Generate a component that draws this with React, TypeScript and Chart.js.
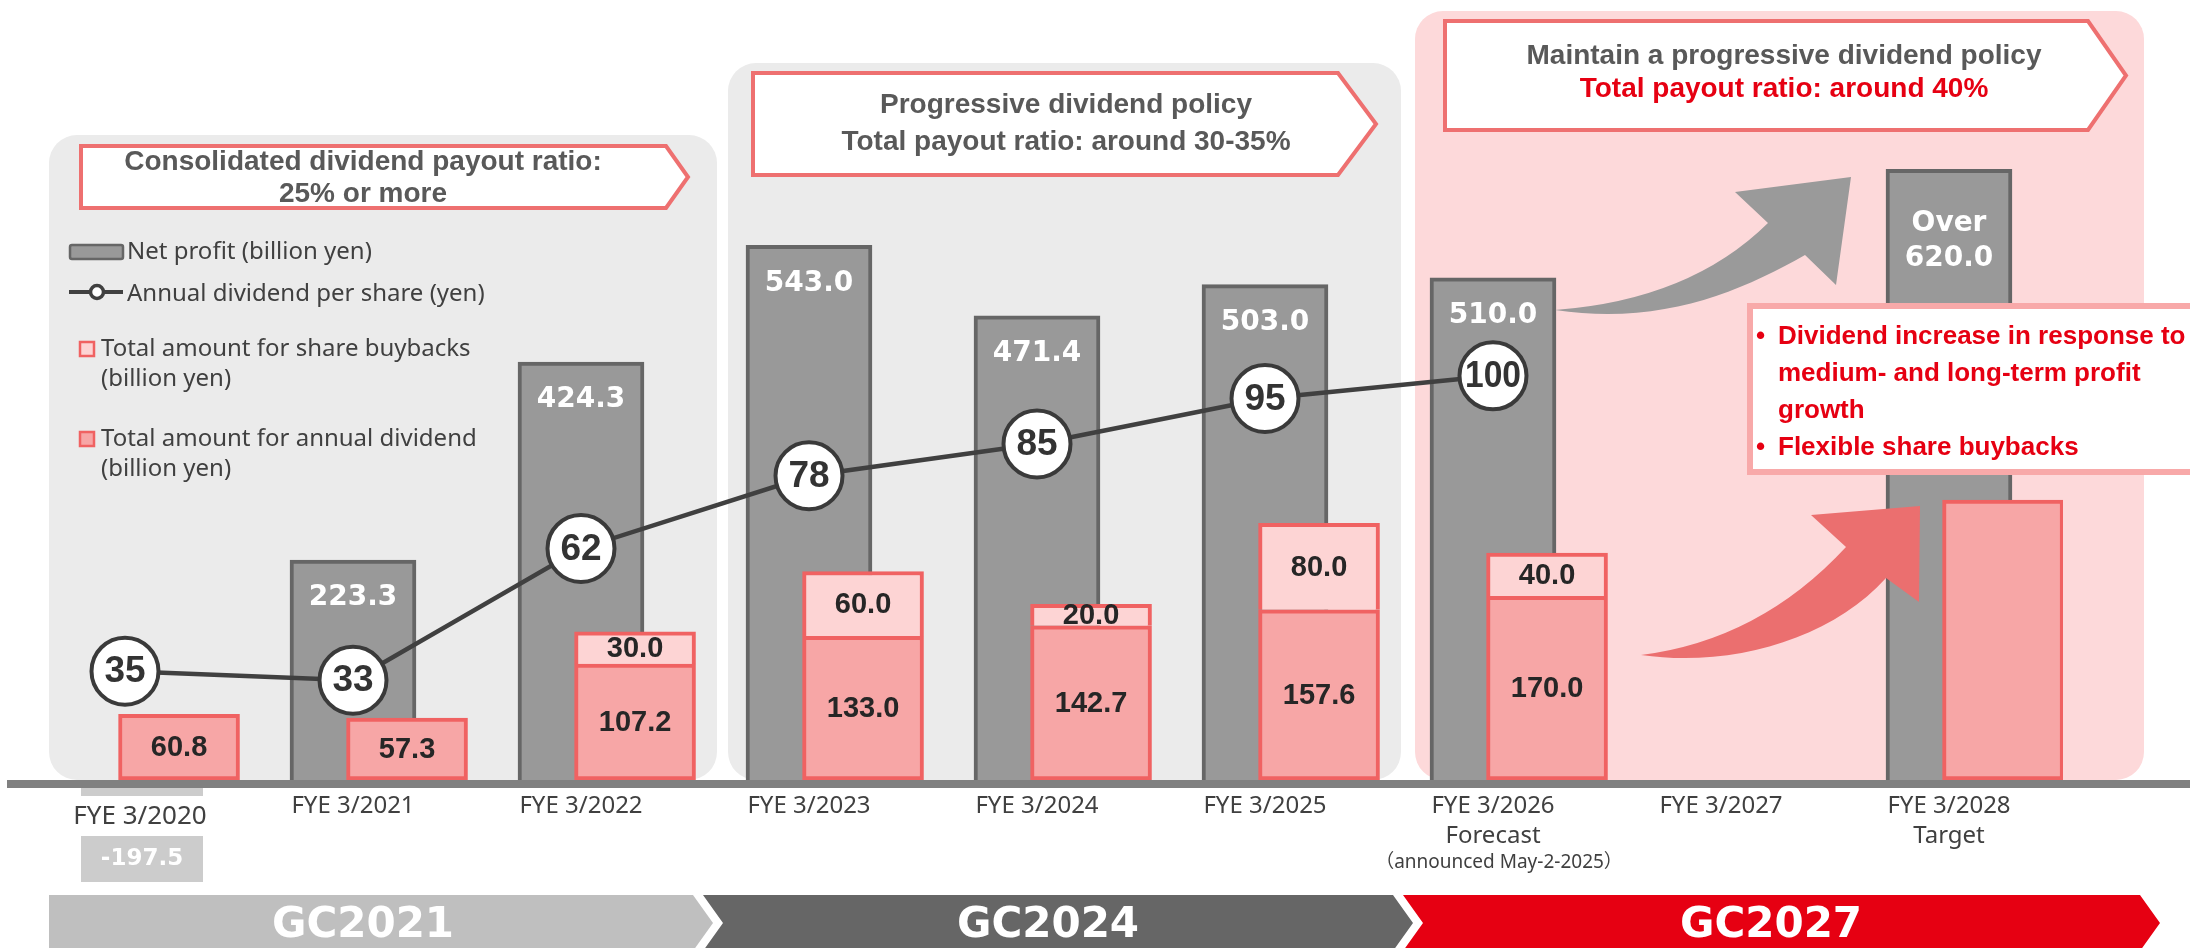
import { useEffect, useRef } from 'react';
import { Chart, registerables } from 'chart.js';

Chart.register(...registerables);

// ---------- data ----------
const categories = ['FYE 3/2020', 'FYE 3/2021', 'FYE 3/2022', 'FYE 3/2023', 'FYE 3/2024', 'FYE 3/2025', 'FYE 3/2026', 'FYE 3/2027', 'FYE 3/2028'];
const categorySubLabels: string[][] = [[], [], [], [], [], [], ['Forecast', '（announced May-2-2025）'], [], ['Target']];
const netProfit = [-197.5, 223.3, 424.3, 543.0, 471.4, 503.0, 510.0, null, 620.0];
const netProfitLabels = ['-197.5', '223.3', '424.3', '543.0', '471.4', '503.0', '510.0', '', 'Over\n620.0'];
const dividendTotal = [60.8, 57.3, 107.2, 133.0, 142.7, 157.6, 170.0, null, 259.0];
const dividendLabels = ['60.8', '57.3', '107.2', '133.0', '142.7', '157.6', '170.0', '', ''];
const buybackTotal = [null, null, 30.0, 60.0, 20.0, 80.0, 40.0, null, null];
const buybackLabels = ['', '', '30.0', '60.0', '20.0', '80.0', '40.0', '', ''];
const dividendPerShare = [35, 33, 62, 78, 85, 95, 100, null, null];
const periodBands = ['GC2021', 'GC2024', 'GC2027'];
const policyTitles = [
  ['Consolidated dividend payout ratio:', '25% or more'],
  ['Progressive dividend policy', 'Total payout ratio: around 30-35%'],
  ['Maintain a progressive dividend policy', 'Total payout ratio: around 40%'],
];
const outlookBullets = [['Dividend increase in response to', 'medium- and long-term profit', 'growth'], ['Flexible share buybacks']];
const legendLabels = ['Net profit (billion yen)', 'Annual dividend per share (yen)', ['Total amount for share buybacks', '(billion yen)'], ['Total amount for annual dividend', '(billion yen)']];

// ---------- style ----------
const RED_SHIFT = 0.237;
const SANS = '"Noto Sans", "Noto Sans CJK JP", sans-serif';
const ARIAL = '"Liberation Sans", Arial, sans-serif';
const VERD = '"DejaVu Sans", Verdana, sans-serif';
const TXT = '#404040';
const RED = '#E60012';

function txt(ctx: CanvasRenderingContext2D, s: string, x: number, y: number, font: string, color: string, align: CanvasTextAlign = 'center', maxW?: number) {
  ctx.font = font;
  ctx.fillStyle = color;
  ctx.textAlign = align;
  ctx.textBaseline = 'middle';
  if (maxW) {
    const w = ctx.measureText(s).width;
    if (w > maxW) { ctx.fillText(s, x, y, maxW); return; }
  }
  ctx.fillText(s, x, y);
}

function pentagon(ctx: CanvasRenderingContext2D, x0: number, y0: number, x1: number, xt: number, y1: number) {
  ctx.beginPath();
  ctx.moveTo(x0, y0);
  ctx.lineTo(x1, y0);
  ctx.lineTo(xt, (y0 + y1) / 2);
  ctx.lineTo(x1, y1);
  ctx.lineTo(x0, y1);
  ctx.closePath();
  ctx.fillStyle = '#FFFFFF';
  ctx.fill();
  ctx.lineWidth = 4;
  ctx.strokeStyle = '#EE7070';
  ctx.lineJoin = 'miter';
  ctx.stroke();
}

const overlay = {
  id: 'overlay',
  beforeDatasetsDraw(chart: any) {
    const ctx: CanvasRenderingContext2D = chart.ctx;
    ctx.save();
    // background panels
    const panels = [
      { x: 49, y: 135, w: 668, h: 645, c: '#EBEBEB' },
      { x: 728, y: 63, w: 673, h: 717, c: '#EBEBEB' },
      { x: 1415, y: 11, w: 729, h: 769, c: '#FDD9DA' },
    ];
    panels.forEach((p) => {
      ctx.beginPath();
      ctx.roundRect(p.x, p.y, p.w, p.h, 28);
      ctx.fillStyle = p.c;
      ctx.fill();
    });
    // policy header boxes
    pentagon(ctx, 81, 146, 666, 688, 208);
    pentagon(ctx, 753, 73, 1338, 1376, 175);
    pentagon(ctx, 1445, 21, 2088, 2126, 130);
    const hf = `bold 28px ${ARIAL}`;
    txt(ctx, policyTitles[0][0], 363, 162, hf, '#595959');
    txt(ctx, policyTitles[0][1], 363, 194, hf, '#595959');
    txt(ctx, policyTitles[1][0], 1066, 105, hf, '#595959');
    txt(ctx, policyTitles[1][1], 1066, 142, hf, '#595959');
    txt(ctx, policyTitles[2][0], 1784, 56, hf, '#595959');
    txt(ctx, policyTitles[2][1], 1784, 89, hf, RED);

    // legend
    ctx.beginPath();
    ctx.roundRect(70, 245, 53, 14, 2);
    ctx.fillStyle = '#999999';
    ctx.fill();
    ctx.lineWidth = 2.5;
    ctx.strokeStyle = '#666666';
    ctx.stroke();
    const lf = `24px ${SANS}`;
    txt(ctx, legendLabels[0] as string, 127, 252, lf, TXT, 'left');
    ctx.beginPath();
    ctx.moveTo(69, 292);
    ctx.lineTo(123, 292);
    ctx.lineWidth = 4;
    ctx.strokeStyle = '#404040';
    ctx.stroke();
    ctx.beginPath();
    ctx.arc(97, 292, 6.5, 0, Math.PI * 2);
    ctx.fillStyle = '#FFFFFF';
    ctx.fill();
    ctx.lineWidth = 3.5;
    ctx.stroke();
    txt(ctx, legendLabels[1] as string, 127, 294, lf, TXT, 'left');
    const sw = (y: number, fill: string) => {
      ctx.fillStyle = fill;
      ctx.fillRect(80, y, 14, 14);
      ctx.lineWidth = 2.5;
      ctx.strokeStyle = '#F06262';
      ctx.strokeRect(80, y, 14, 14);
    };
    sw(342, '#FDD4D4');
    txt(ctx, (legendLabels[2] as string[])[0], 101, 349, lf, TXT, 'left');
    txt(ctx, (legendLabels[2] as string[])[1], 101, 379, lf, TXT, 'left');
    sw(432, '#F7A6A6');
    txt(ctx, (legendLabels[3] as string[])[0], 101, 439, lf, TXT, 'left');
    txt(ctx, (legendLabels[3] as string[])[1], 101, 469, lf, TXT, 'left');
    ctx.restore();
  },
  afterDatasetsDraw(chart: any) {
    const ctx: CanvasRenderingContext2D = chart.ctx;
    const xs = chart.scales.x;
    const area = chart.chartArea;
    ctx.save();

    // value labels on net profit bars
    const gMeta = chart.getDatasetMeta(3);
    gMeta.data.forEach((el: any, i: number) => {
      const lab = netProfitLabels[i];
      if (!lab || netProfit[i] === null || (netProfit[i] as number) < 0) return;
      const lines = lab.split('\n');
      const top = el.y;
      const start = lines.length > 1 ? top + 54 : top + 38;
      lines.forEach((l, k) => txt(ctx, l, el.x, start + k * 35, `bold 28px ${VERD}`, '#FFFFFF'));
    });

    // payout labels
    const dMeta = chart.getDatasetMeta(1);
    dMeta.data.forEach((el: any, i: number) => {
      if (!dividendLabels[i] || dividendTotal[i] === null) return;
      txt(ctx, dividendLabels[i], el.x, (el.y + el.base) / 2 + 1, `bold 29px ${ARIAL}`, '#262626');
    });
    const bMeta = chart.getDatasetMeta(2);
    bMeta.data.forEach((el: any, i: number) => {
      if (!buybackLabels[i] || buybackTotal[i] === null) return;
      txt(ctx, buybackLabels[i], el.x, (el.y + el.base) / 2 + 1, `bold 29px ${ARIAL}`, '#262626');
    });

    // dividend per share numbers
    const lMeta = chart.getDatasetMeta(0);
    lMeta.data.forEach((el: any, i: number) => {
      const v = dividendPerShare[i];
      if (v === null) return;
      txt(ctx, String(v), el.x, el.y + 1, `bold 37px ${ARIAL}`, '#333333', 'center', 56);
    });

    // axis line
    ctx.fillStyle = '#808080';
    ctx.fillRect(7, area.bottom, 2183, 8);

    // negative net profit (FYE 3/2020) shown as a stub with label box
    const negIdx = netProfit.findIndex((v) => v !== null && (v as number) < 0);
    if (negIdx >= 0) {
      const cx = xs.getPixelForValue(negIdx) + 17;
      ctx.fillStyle = '#CCCCCC';
      ctx.fillRect(cx - 61, area.bottom + 8, 122, 8);
      ctx.fillRect(cx - 61, 836, 122, 46);
      txt(ctx, netProfitLabels[negIdx], cx, 859, `bold 23px ${VERD}`, '#FFFFFF');
    }

    // x labels
    categories.forEach((c, i) => {
      const x = xs.getPixelForValue(i);
      if (i === negIdx) {
        txt(ctx, c, x + 15, 817, `26px ${SANS}`, TXT);
        return;
      }
      txt(ctx, c, x, 806, `24px ${SANS}`, TXT);
      const subs = categorySubLabels[i];
      subs.forEach((s, k) => {
        if (s.startsWith('（')) txt(ctx, s, x + 6, 863, `19px ${SANS}`, TXT);
        else txt(ctx, s, x, 836 + k * 27, `24px ${SANS}`, TXT);
      });
    });

    // growth arrows
    ctx.beginPath();
    ctx.moveTo(1555, 310);
    ctx.quadraticCurveTo(1690, 300, 1768, 223);
    ctx.lineTo(1735, 192);
    ctx.lineTo(1851, 177);
    ctx.lineTo(1836, 285);
    ctx.lineTo(1805, 255);
    ctx.bezierCurveTo(1740, 292, 1660, 326, 1555, 310);
    ctx.closePath();
    ctx.fillStyle = '#9A9A9A';
    ctx.fill();

    ctx.beginPath();
    ctx.moveTo(1641, 655);
    ctx.quadraticCurveTo(1760, 640, 1846, 547);
    ctx.lineTo(1811, 515);
    ctx.lineTo(1920, 506);
    ctx.lineTo(1919, 602);
    ctx.lineTo(1886, 578);
    ctx.bezierCurveTo(1830, 640, 1730, 668, 1641, 655);
    ctx.closePath();
    ctx.fillStyle = '#EB6F6F';
    ctx.fill();

    // outlook box
    ctx.fillStyle = '#FFFFFF';
    ctx.fillRect(1750, 306, 460, 166);
    ctx.lineWidth = 6;
    ctx.strokeStyle = '#F8A9A9';
    ctx.strokeRect(1750, 306, 460, 166);
    const bf = `bold 26px ${ARIAL}`;
    let ly = 337;
    outlookBullets.forEach((b) => {
      txt(ctx, '•', 1756, ly, bf, RED, 'left');
      b.forEach((l) => {
        txt(ctx, l, 1778, ly, bf, RED, 'left');
        ly += 37;
      });
    });

    // period bands
    const bands = [
      { x0: 49, x1: 693, notch: false, c: '#BFBFBF', tx: 363 },
      { x0: 703, x1: 1393, notch: true, c: '#666666', tx: 1048 },
      { x0: 1403, x1: 2140, notch: true, c: RED, tx: 1771 },
    ];
    bands.forEach((b, i) => {
      ctx.beginPath();
      ctx.moveTo(b.x0, 895);
      ctx.lineTo(b.x1, 895);
      ctx.lineTo(b.x1 + 20, 923);
      ctx.lineTo(b.x1, 951);
      ctx.lineTo(b.x0, 951);
      if (b.notch) ctx.lineTo(b.x0 + 20, 923);
      ctx.closePath();
      ctx.fillStyle = b.c;
      ctx.fill();
      txt(ctx, periodBands[i], b.tx, 926, `bold 42px ${VERD}`, '#FFFFFF');
    });
    ctx.restore();
  },
};

export default function App() {
  const ref = useRef<HTMLCanvasElement>(null);
  useEffect(() => {
    document.body.style.margin = '0';
    const canvas = ref.current;
    if (!canvas) return;
    const chart = new Chart(canvas, {
      type: 'bar',
      data: {
        datasets: [
          {
            type: 'line',
            label: 'Annual dividend per share (yen)',
            data: dividendPerShare.map((v, i) => ({ x: i, y: v })) as any,
            xAxisID: 'x',
            yAxisID: 'yDps',
            borderColor: '#404040',
            borderWidth: 4.5,
            pointRadius: 33.5,
            pointHoverRadius: 33.5,
            pointBackgroundColor: '#FFFFFF',
            pointBorderColor: '#3A3A3A',
            pointBorderWidth: 4,
            tension: 0,
            clip: false,
            order: 0,
          } as any,
          {
            type: 'bar',
            label: 'Total amount for annual dividend (billion yen)',
            data: dividendTotal.map((v, i) => ({ x: i + RED_SHIFT, y: v })) as any,
            xAxisID: 'x',
            yAxisID: 'yPay',
            stack: 'pay',
            grouped: false,
            barThickness: 121,
            backgroundColor: '#F7A6A6',
            borderColor: '#F06262',
            borderWidth: 4,
            borderSkipped: false,
            order: 1,
          } as any,
          {
            type: 'bar',
            label: 'Total amount for share buybacks (billion yen)',
            data: buybackTotal.map((v, i) => ({ x: i + RED_SHIFT, y: v })) as any,
            xAxisID: 'x',
            yAxisID: 'yPay',
            stack: 'pay',
            grouped: false,
            barThickness: 121,
            backgroundColor: '#FDD4D4',
            borderColor: '#F06262',
            borderWidth: 4,
            borderSkipped: 'start',
            order: 1,
          } as any,
          {
            type: 'bar',
            label: 'Net profit (billion yen)',
            data: netProfit.map((v, i) => ({ x: i, y: v })) as any,
            xAxisID: 'x',
            yAxisID: 'yProfit',
            grouped: false,
            barThickness: 126,
            backgroundColor: '#999999',
            borderColor: '#666666',
            borderWidth: 4,
            borderSkipped: 'start',
            clip: 0,
            order: 2,
          } as any,
        ],
      },
      options: {
        responsive: false,
        animation: false,
        devicePixelRatio: 1,
        layout: { autoPadding: false, padding: { left: 11, right: 127, top: 0, bottom: 168 } },
        plugins: { legend: { display: false }, tooltip: { enabled: false } },
        events: [],
        scales: {
          x: { type: 'linear', min: -0.5, max: 8.5, offset: false, display: false },
          yProfit: { type: 'linear', min: 0, max: 792, display: false, stacked: false },
          yPay: { type: 'linear', min: 0, max: 722, display: false, stacked: true },
          yDps: { type: 'linear', min: 11.05, max: 182.7, display: false, stacked: false },
        },
      } as any,
      plugins: [overlay],
    });
    return () => chart.destroy();
  }, []);
  return (
    <div style={{ position: 'fixed', left: 0, top: 0, width: 2190, height: 948 }}>
      <canvas ref={ref} width={2190} height={948} style={{ width: 2190, height: 948, display: 'block' }} />
    </div>
  );
}
